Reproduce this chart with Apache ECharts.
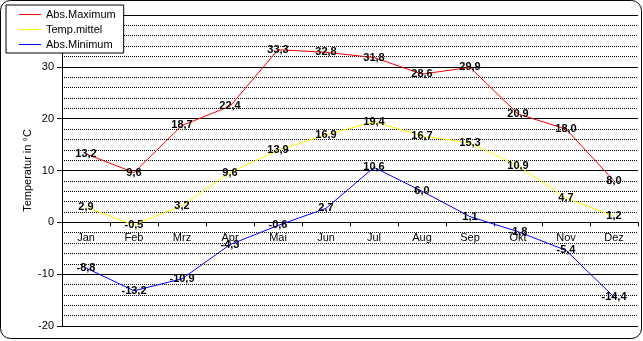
<!DOCTYPE html>
<html><head><meta charset="utf-8">
<script src="https://cdn.jsdelivr.net/npm/echarts@6/dist/echarts.min.js"></script>
<style>html,body{margin:0;padding:0;background:#fff}#c{width:643px;height:341px}</style>
</head><body><div id="c"></div>
<script>
const categories = ['Jan','Feb','Mrz','Apr','Mai','Jun','Jul','Aug','Sep','Okt','Nov','Dez'];
const absMaximum = [13.2, 9.6, 18.7, 22.4, 33.3, 32.8, 31.8, 28.6, 29.9, 20.9, 18.0, 8.0];
const tempMittel = [2.9, -0.5, 3.2, 9.6, 13.9, 16.9, 19.4, 16.7, 15.3, 10.9, 4.7, 1.2];
const absMinimum = [-8.8, -13.2, -10.9, -4.3, -0.6, 2.7, 10.6, 6.0, 1.1, -1.8, -5.4, -14.4];
const seriesNames = ['Abs.Maximum', 'Temp.mittel', 'Abs.Minimum'];
const seriesColors = ['#ff0000', '#ffff00', '#0000ff'];
const yTitle = 'Temperatur in °C';

const FONT = '"Liberation Sans", Arial, sans-serif';
const GRID_TOP = 15, GRID_BOTTOM = 15, H = 341;
const Y_MIN = -20, Y_MAX = 40;
const plotH = H - GRID_TOP - GRID_BOTTOM;
const zeroOffset = -plotH * (0 - Y_MIN) / (Y_MAX - Y_MIN);

const chart = echarts.init(document.getElementById('c'), null, {renderer: 'canvas'});
function mkSeries(name, data, color) {
  return {
    name, type: 'line', data, color,
    symbol: 'circle', symbolSize: 1, showSymbol: true,
    itemStyle: {color: 'rgba(0,0,0,0)', borderWidth: 0},
    lineStyle: {color, width: 1},
    emphasis: {disabled: true},
    animation: false,
    label: {
      show: true, position: 'inside', color: '#000',
      fontFamily: FONT, fontSize: 11, fontWeight: 'bold',
      formatter: p => p.value.toFixed(1).replace('.', ',')
    }
  };
}
chart.setOption({
  backgroundColor: '#fff',
  animation: false,
  graphic: [{
    type: 'rect', z: -10, silent: true,
    shape: {x: 0.5, y: 0.5, width: 641, height: 338, r: 10},
    style: {fill: '#fff', stroke: '#000', lineWidth: 1}
  }],
  legend: {
    orient: 'vertical', left: 6, top: 5,
    backgroundColor: '#fff', borderColor: '#000', borderWidth: 1, borderRadius: 0,
    padding: [2, 8, 1, 13],
    itemWidth: 22, itemHeight: 1, itemGap: 0,
    icon: 'rect',
    textStyle: {fontFamily: FONT, fontSize: 11, color: '#000', lineHeight: 15},
    data: seriesNames.map((n, i) => ({name: n, itemStyle: {color: seriesColors[i], opacity: 1}}))
  },
  grid: {left: 62, right: 5, top: GRID_TOP, bottom: GRID_BOTTOM, containLabel: false},
  xAxis: {
    type: 'category', data: categories, boundaryGap: true,
    position: 'bottom', offset: zeroOffset,
    axisLine: {show: true, onZero: false, lineStyle: {color: '#000', width: 1}},
    axisTick: {show: true, length: 4, alignWithLabel: false, lineStyle: {color: '#000'}},
    axisLabel: {color: '#000', fontFamily: FONT, fontSize: 11, margin: 10, interval: 0},
    splitLine: {show: false}
  },
  yAxis: {
    type: 'value', min: Y_MIN, max: Y_MAX, interval: 10,
    name: yTitle, nameLocation: 'middle', nameRotate: 90, nameGap: 29, nameMoveOverlap: false,
    nameTextStyle: {color: '#000', fontFamily: FONT, fontSize: 11},
    axisLine: {show: true, lineStyle: {color: '#000', width: 1}},
    axisTick: {show: true, length: 5, lineStyle: {color: '#000'}},
    axisLabel: {color: '#000', fontFamily: FONT, fontSize: 11, margin: 8},
    splitLine: {show: true, lineStyle: {color: '#000', width: 1}},
    minorTick: {show: false, splitNumber: 5},
    minorSplitLine: {show: true, lineStyle: {color: '#000', width: 1, type: [1, 1]}}
  },
  series: seriesNames.map((n, i) => mkSeries(n, [absMaximum, tempMittel, absMinimum][i], seriesColors[i]))
});
</script></body></html>
